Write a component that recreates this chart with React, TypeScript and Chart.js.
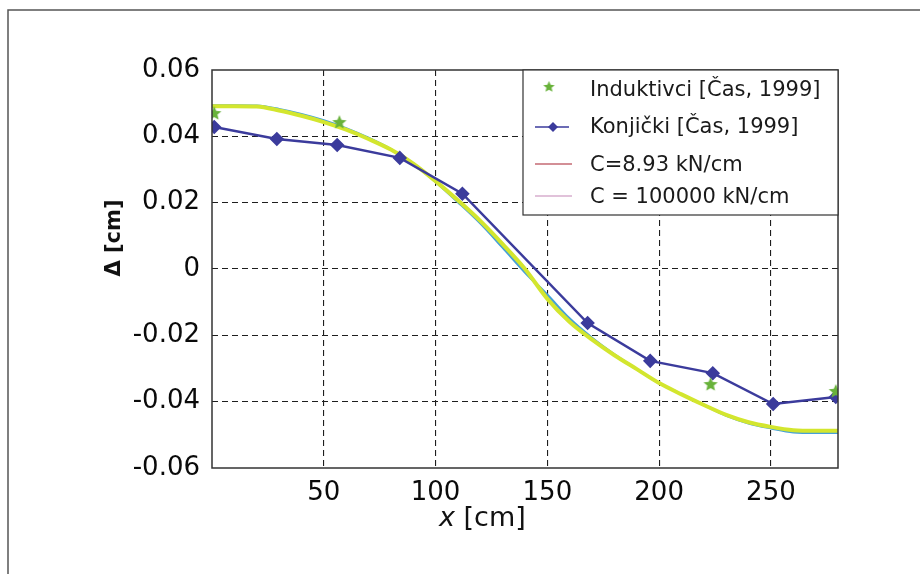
import React, { useEffect, useRef } from "react";
import { Chart, registerables } from "chart.js";

Chart.register(...registerables);

// ---- Data ----
const induktivciX = [1, 57, 223, 279];
const induktivciY = [0.047, 0.0443, -0.0347, -0.0368];

const konjickiX = [1, 29, 56, 84, 112, 168, 196, 224, 251, 279];
const konjickiY = [0.0428, 0.0392, 0.0374, 0.0335, 0.0227, -0.0163, -0.0277, -0.0314, -0.0407, -0.0386];

const curveX = [0, 10, 20, 30, 40, 50, 60, 70, 80, 90, 100, 110, 120, 130, 140, 150, 160, 170, 180, 190, 200, 210, 220, 230, 240, 250, 260, 270, 280];
const curveC893 = [0.0491, 0.0491, 0.049, 0.0478, 0.0462, 0.0443, 0.042, 0.0392, 0.036, 0.0318, 0.0265, 0.0207, 0.0145, 0.0075, 0.0, -0.009, -0.016, -0.0213, -0.026, -0.0302, -0.0344, -0.0378, -0.041, -0.044, -0.0462, -0.0476, -0.0486, -0.0488, -0.0488];
const curveC100000 = [0.0493, 0.0493, 0.0492, 0.0482, 0.0467, 0.0448, 0.0424, 0.0395, 0.0361, 0.0318, 0.0263, 0.0202, 0.0138, 0.0065, -0.001, -0.0078, -0.015, -0.0208, -0.0258, -0.0302, -0.0344, -0.0378, -0.041, -0.0442, -0.0465, -0.048, -0.0492, -0.0494, -0.0494];

const xTicks = [50, 100, 150, 200, 250];
const yTicks = [-0.06, -0.04, -0.02, 0, 0.02, 0.04, 0.06];

const legendLabels = ["Induktivci [Čas, 1999]", "Konjički [Čas, 1999]", "C=8.93 kN/cm", "C = 100000 kN/cm"];
const xTitleItalic = "x";
const xTitleRest = " [cm]";
const yTitle = "Δ [cm]";

const COLORS = {
  star: "#68b23a",
  konj: "#3b3b9c",
  yellow: "#d3e62e",
  cyan: "#45a0d8",
  legRed: "#a8202e",
  legPink: "#c386b6",
};

const pairs = (xs: number[], ys: number[]) => xs.map((x, i) => ({ x, y: ys[i] }));

function makeStar(color: string, size: number) {
  const c = document.createElement("canvas");
  c.width = size;
  c.height = size;
  const g = c.getContext("2d")!;
  const cx = size / 2, cy = size / 2 + 0.5;
  const R = size / 2 - 0.5, r = R * 0.45;
  g.beginPath();
  for (let i = 0; i < 10; i++) {
    const rad = i % 2 === 0 ? R : r;
    const a = -Math.PI / 2 + (i * Math.PI) / 5;
    const px = cx + rad * Math.cos(a), py = cy + rad * Math.sin(a);
    if (i === 0) g.moveTo(px, py); else g.lineTo(px, py);
  }
  g.closePath();
  g.fillStyle = color;
  g.fill();
  return c;
}

export default function App() {
  const ref = useRef<HTMLCanvasElement | null>(null);

  useEffect(() => {
    if (!ref.current) return;
    Chart.defaults.font.family = "'DejaVu Sans', sans-serif";
    const star = makeStar(COLORS.star, 16);
    const legendStar = makeStar(COLORS.star, 13);

    const overlay = {
      id: "overlay",
      beforeDraw(chart: any) {
        const ctx = chart.ctx;
        ctx.save();
        ctx.fillStyle = "#fff";
        ctx.fillRect(0, 0, chart.width, chart.height);
        ctx.strokeStyle = "#555";
        ctx.lineWidth = 1.5;
        ctx.beginPath();
        ctx.moveTo(8, chart.height);
        ctx.lineTo(8, 10);
        ctx.lineTo(chart.width, 10);
        ctx.stroke();
        ctx.restore();
      },
      afterDraw(chart: any) {
        const ctx = chart.ctx;
        const ca = chart.chartArea;
        ctx.save();
        // plot frame
        ctx.strokeStyle = "#333";
        ctx.lineWidth = 1.5;
        ctx.strokeRect(ca.left, ca.top, ca.right - ca.left, ca.bottom - ca.top);

        // legend box
        const lx = ca.right - 315, ly = ca.top, lw = 315, lh = 145;
        ctx.fillStyle = "#fff";
        ctx.fillRect(lx, ly, lw, lh);
        ctx.strokeStyle = "#333";
        ctx.lineWidth = 1.2;
        ctx.strokeRect(lx, ly, lw, lh);

        const rows = [20, 57, 95, 127];
        const ix0 = lx + 12, ix1 = lx + 48, icx = lx + 30;
        // row 0 star
        ctx.drawImage(legendStar, icx - 6.5 - 4, ly + rows[0] - 10);
        // row 1 line + diamond
        ctx.strokeStyle = COLORS.konj;
        ctx.lineWidth = 1.5;
        ctx.beginPath();
        ctx.moveTo(ix0, ly + rows[1]);
        ctx.lineTo(ix1 - 2, ly + rows[1]);
        ctx.stroke();
        ctx.fillStyle = COLORS.konj;
        ctx.beginPath();
        const dy = ly + rows[1], dx = icx;
        ctx.moveTo(dx, dy - 5);
        ctx.lineTo(dx + 5, dy);
        ctx.lineTo(dx, dy + 5);
        ctx.lineTo(dx - 5, dy);
        ctx.closePath();
        ctx.fill();
        // row 2 red line
        ctx.strokeStyle = COLORS.legRed;
        ctx.lineWidth = 1.2;
        ctx.beginPath();
        ctx.moveTo(ix0, ly + rows[2] - 1);
        ctx.lineTo(ix1 + 1, ly + rows[2] - 1);
        ctx.stroke();
        // row 3 pink line
        ctx.strokeStyle = COLORS.legPink;
        ctx.beginPath();
        ctx.moveTo(ix0, ly + rows[3] - 1);
        ctx.lineTo(ix1 + 1, ly + rows[3] - 1);
        ctx.stroke();

        ctx.fillStyle = "#1a1a1a";
        ctx.font = "21px 'DejaVu Sans', sans-serif";
        ctx.textBaseline = "middle";
        ctx.textAlign = "left";
        legendLabels.forEach((t, i) => ctx.fillText(t, lx + 67, ly + rows[i] + 1));

        // x title
        ctx.fillStyle = "#111";
        ctx.textBaseline = "middle";
        ctx.font = "italic 27px 'DejaVu Sans', sans-serif";
        const xt0 = 439, xty = 519;
        ctx.fillText(xTitleItalic, xt0, xty);
        const w = ctx.measureText(xTitleItalic).width;
        ctx.font = "27px 'DejaVu Sans', sans-serif";
        ctx.fillText(xTitleRest, xt0 + w, xty);

        // y title
        ctx.translate(115, 238);
        ctx.rotate(-Math.PI / 2);
        ctx.font = "bold 21px 'DejaVu Sans', sans-serif";
        ctx.textAlign = "center";
        ctx.fillText(yTitle, 0, 0);
        ctx.restore();
      },
    };

    const chart = new Chart(ref.current, {
      type: "scatter",
      data: {
        datasets: [
          {
            label: legendLabels[0],
            data: pairs(induktivciX, induktivciY),
            showLine: false,
            pointStyle: star as any,
            pointRadius: 8,
          },
          {
            label: legendLabels[1],
            data: pairs(konjickiX, konjickiY),
            showLine: true,
            borderColor: COLORS.konj,
            backgroundColor: COLORS.konj,
            borderWidth: 2.5,
            pointStyle: "rectRot",
            pointRadius: 5.5,
            pointBackgroundColor: COLORS.konj,
            pointBorderColor: COLORS.konj,
          },
          {
            label: legendLabels[2],
            data: pairs(curveX, curveC893),
            showLine: true,
            borderColor: COLORS.yellow,
            borderWidth: 4,
            pointRadius: 0,
            cubicInterpolationMode: "monotone",
          },
          {
            label: legendLabels[3],
            data: pairs(curveX, curveC100000),
            showLine: true,
            borderColor: COLORS.cyan,
            borderWidth: 2.5,
            pointRadius: 0,
            cubicInterpolationMode: "monotone",
          },
        ],
      },
      options: {
        responsive: false,
        animation: false,
        events: [],
        layout: { padding: { left: 112, top: 70, right: 82, bottom: 46 } },
        plugins: { legend: { display: false }, tooltip: { enabled: false } },
        scales: {
          x: {
            type: "linear",
            min: 0,
            max: 280,
            afterBuildTicks: (s: any) => {
              s.ticks = xTicks.map((v) => ({ value: v }));
            },
            afterFit: (s: any) => {
              s.height = 60;
            },
            ticks: { font: { size: 26 }, color: "#0a0a0a", padding: 10, maxRotation: 0, autoSkip: false },
            grid: { color: "#1e1e1e", lineWidth: 1.1, drawTicks: false },
            border: { display: false, dash: [6, 4] },
          },
          y: {
            type: "linear",
            min: -0.06,
            max: 0.06,
            afterBuildTicks: (s: any) => {
              s.ticks = yTicks.map((v) => ({ value: v }));
            },
            afterFit: (s: any) => {
              s.width = 100;
            },
            ticks: {
              font: { size: 26 },
              color: "#0a0a0a",
              padding: 12,
              autoSkip: false,
              callback: (v: any) => (Math.abs(Number(v)) < 1e-9 ? "0" : Number(v).toFixed(2)),
            },
            grid: {
              color: (c: any) => (c.tick && Math.abs(Math.abs(c.tick.value) - 0.06) < 1e-9 ? "rgba(0,0,0,0)" : "#1e1e1e"),
              lineWidth: 1.1,
              drawTicks: false,
            },
            border: { display: false, dash: [6, 4] },
          },
        },
      },
      plugins: [overlay],
    } as any);

    return () => chart.destroy();
  }, []);

  return (
    <div style={{ position: "absolute", left: 0, top: 0, width: 920, height: 574 }}>
      <canvas ref={ref} width={920} height={574} style={{ width: 920, height: 574, display: "block" }} />
    </div>
  );
}
